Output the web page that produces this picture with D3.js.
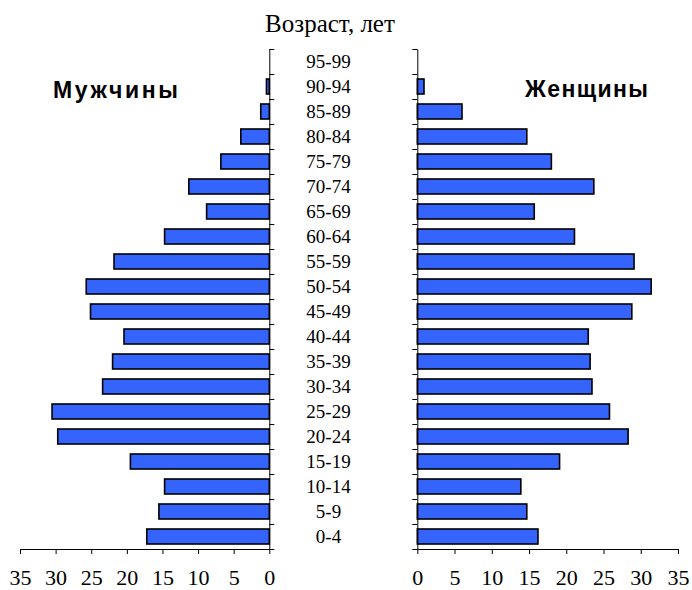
<!DOCTYPE html>
<html><head><meta charset="utf-8">
<script src="https://cdn.jsdelivr.net/npm/d3@7"></script>
<style>
body{margin:0;background:#fff;}
svg{display:block;}
.serif{font-family:"Liberation Serif","Times New Roman",Tinos,"DejaVu Serif","Noto Serif",serif;}
</style></head>
<body>
<svg id="chart" width="692" height="590"></svg>
<script>
const ages = ["0-4","5-9","10-14","15-19","20-24","25-29","30-34","35-39","40-44","45-49","50-54","55-59","60-64","65-69","70-74","75-79","80-84","85-89","90-94","95-99"];
const men = [17.2,15.5,14.7,19.5,29.7,30.5,23.4,22.0,20.4,25.1,25.7,21.8,14.7,8.8,11.3,6.8,4.0,1.2,0.4,0];
const women = [16.2,14.7,13.9,19.1,28.3,25.8,23.45,23.2,22.95,28.8,31.4,29.1,21.1,15.7,23.7,18.0,14.7,6.0,0.9,0];
const xTicks = [0,5,10,15,20,25,30,35];
const title = "Возраст, лет";
const menLabel = "Мужчины";
const womenLabel = "Женщины";

const svg = d3.select("#chart");
const yTop = 49, yBottom = 549;
const y = d3.scaleBand().domain(ages.slice().reverse()).range([yTop, yBottom]).paddingInner(0.4).paddingOuter(0.2);
const xm = d3.scaleLinear().domain([0,35]).range([269.3, 20]);
const xw = d3.scaleLinear().domain([0,35]).range([417.3, 678]);
const yb = d3.scaleLinear().domain([0, ages.length]).range([yBottom, yTop]);

const fill = "#3464fc";

// bars men
svg.append("g").selectAll("rect").data(ages).join("rect")
  .attr("x", (d,i) => xm(men[i]))
  .attr("y", d => y(d))
  .attr("width", (d,i) => xm(0) - xm(men[i]))
  .attr("height", y.bandwidth())
  .attr("fill", fill).attr("stroke", "#000").attr("stroke-width", 1.6)
  .style("display", (d,i) => men[i] > 0 ? null : "none");

// bars women
svg.append("g").selectAll("rect").data(ages).join("rect")
  .attr("x", xw(0))
  .attr("y", d => y(d))
  .attr("width", (d,i) => xw(women[i]) - xw(0))
  .attr("height", y.bandwidth())
  .attr("fill", fill).attr("stroke", "#000").attr("stroke-width", 1.6)
  .style("display", (d,i) => women[i] > 0 ? null : "none");

function styleAxis(g){
  g.attr("font-family", null).attr("font-size", null);
  g.selectAll("path,line").attr("stroke","#000").attr("stroke-width",1);
  g.selectAll("text").attr("fill","#000").attr("class","serif").style("font-size","22px");
}

// vertical axes
svg.append("g").attr("transform", `translate(${xm(0)},0)`)
  .call(d3.axisRight(yb).tickValues(d3.range(0, ages.length+1)).tickSize(5).tickSizeOuter(0).tickFormat(""))
  .call(styleAxis);
svg.append("g").attr("transform", `translate(${xw(0)},0)`)
  .call(d3.axisLeft(yb).tickValues(d3.range(0, ages.length+1)).tickSize(5).tickSizeOuter(0).tickFormat(""))
  .call(styleAxis);

// bottom axes
svg.append("g").attr("transform", `translate(0,${yBottom})`)
  .call(d3.axisBottom(xm).tickValues(xTicks).tickSize(5).tickSizeOuter(0).tickPadding(15).tickFormat(d3.format("d")))
  .call(styleAxis);
svg.append("g").attr("transform", `translate(0,${yBottom})`)
  .call(d3.axisBottom(xw).tickValues(xTicks).tickSize(5).tickSizeOuter(0).tickPadding(15).tickFormat(d3.format("d")))
  .call(styleAxis);

// age labels
svg.append("g").selectAll("text").data(ages).join("text")
  .attr("class","serif")
  .attr("x", 328.5)
  .attr("y", d => y(d) + y.bandwidth()/2)
  .attr("dy", "0.35em")
  .attr("text-anchor", "middle")
  .style("font-size","19px")
  .text(d => d);

// title
svg.append("text").attr("class","serif").attr("x", 330).attr("y", 32).attr("text-anchor","middle")
  .style("font-size","25px")
  .text(title);

// sex labels
svg.append("text").attr("x", 53).attr("y", 98)
  .attr("textLength", 125).attr("lengthAdjust","spacing")
  .style("font-family","'Liberation Sans',Arial,sans-serif").style("font-weight","bold").style("font-size","23px")
  .text(menLabel);
svg.append("text").attr("x", 525).attr("y", 97)
  .attr("textLength", 123).attr("lengthAdjust","spacing")
  .style("font-family","'Liberation Sans',Arial,sans-serif").style("font-weight","bold").style("font-size","23px")
  .text(womenLabel);
</script>
</body></html>
